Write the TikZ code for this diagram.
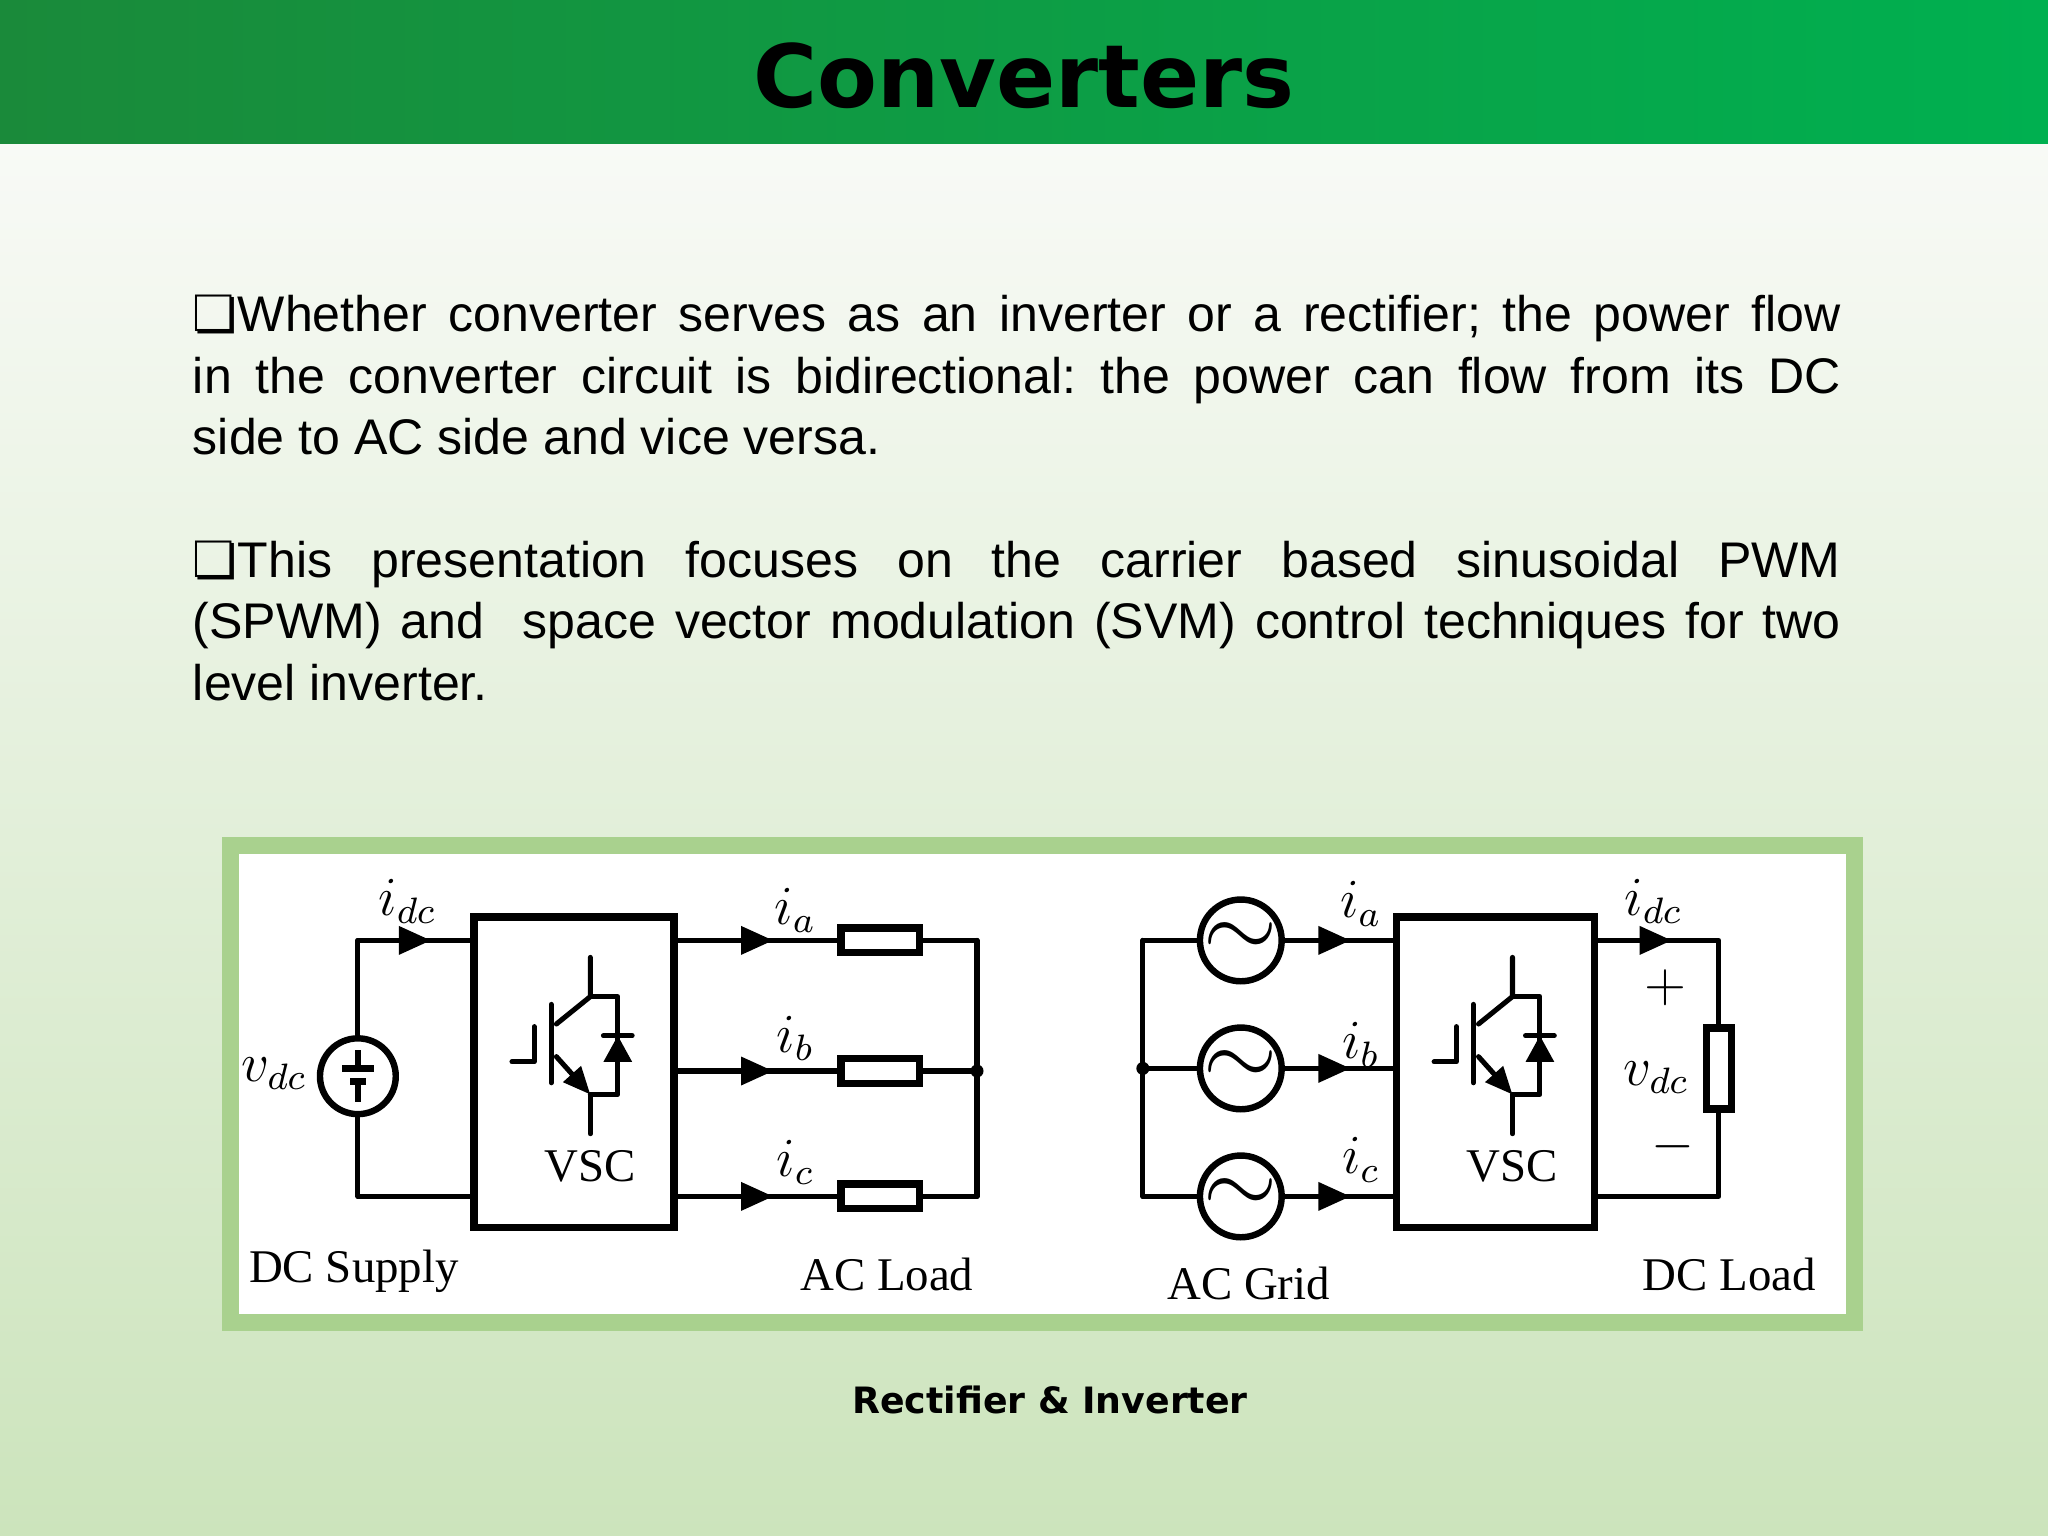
\documentclass[tikz,border=0pt]{standalone}
\usepackage{fontspec}
\setmainfont{Liberation Sans}
\newfontfamily\dejavu{DejaVu Sans}
\newfontfamily\circfont{Liberation Serif}
\usetikzlibrary{arrows.meta,calc}
\definecolor{hdA}{HTML}{1A8A3A}
\definecolor{hdB}{HTML}{00B050}
\definecolor{bgT}{HTML}{F8FAF6}
\definecolor{bgB}{HTML}{CCE4BC}
\definecolor{frame}{HTML}{A9D18E}
\frenchspacing
\begin{document}
\begin{tikzpicture}[x=0.01cm,y=-0.01cm,
  wire/.style={line width=1.1pt,line cap=round,line join=round},
  box/.style={line width=1.6pt},
  res/.style={draw,line width=1.6pt,fill=white,minimum width=0.6cm,minimum height=0.19cm,inner sep=0pt},
  vres/.style={draw,line width=1.6pt,fill=white,minimum width=0.19cm,minimum height=0.62cm,inner sep=0pt},
  src/.style={draw,line width=1.4pt,circle,minimum size=0.58cm,inner sep=0pt,fill=white},
  arr/.style={wire,-{Triangle[length=7pt,width=6pt]}},
  lbl/.style={font=\circfont\fontsize{12}{13}\selectfont},
  big/.style={font=\circfont\fontsize{10.2}{12}\selectfont},
  body/.style={anchor=base west,inner sep=0pt,font=\fontsize{10.9}{13}\selectfont}]
\useasboundingbox (0,0) rectangle (1568,1176);
\shade[top color=bgT,bottom color=bgB] (0,110) rectangle (1568,1176);
\shade[left color=hdA,right color=hdB] (0,0) rectangle (1568,110);
\node[font=\dejavu\bfseries\fontsize{19}{22}\selectfont] (title) at (784,58) {Converters};

% body text
\node[body] (l1) at (147,254) {\makebox[12.61cm][s]{{\dejavu\char"274F}Whether converter serves as an inverter or a rectifier; the power flow}};
\node[body] (l2) at (147,301) {\makebox[12.61cm][s]{in the converter circuit is bidirectional: the power can flow from its DC}};
\node[body] (l3) at (147,348) {side to AC side and vice versa.};
\node[body] (l4) at (147,442) {\makebox[12.61cm][s]{{\dejavu\char"274F}This presentation focuses on the carrier based sinusoidal PWM}};
\node[body] (l5) at (147,489) {\makebox[12.61cm][s]{(SPWM) and\ \ space vector modulation (SVM) control techniques for two}};
\node[body] (l6) at (147,536) {level inverter.};

% frame
\fill[frame] (170,641) rectangle (1426,1019);
\fill[white] (183,654) rectangle (1413,1006);

% ===== left circuit =====
\draw[box] (363,702) rectangle (516,940);
\coordinate (L1) at (363,720); \coordinate (L2) at (363,916);
\node[src] (dc) at (274,824) {};
\draw[line width=1.4pt] (262,818) -- (286,818) (268,828) -- (280,828) (274,804) -- (274,818) (274,828) -- (274,844);
\coordinate (dctl) at (274,720); \coordinate (dcbl) at (274,916);
\draw[wire] (dc.north) -- (dctl) -- (L1);
\draw[wire] (dc.south) -- (dcbl) -- (L2);
\draw[arr] (dctl) -- (330,720);
\node[lbl] at (312,690) {$i_{dc}$};
\node[lbl] at (210,822) {$v_{dc}$};

\foreach \dx/\n in {0/A,706/B}{
\begin{scope}[xshift=\dx*0.01cm]
 \draw[wire] (452,733) -- (452,763) -- (426,784);
 \draw[wire] (422,769) -- (422,829);
 \draw[wire] (392,813) -- (409,813) -- (409,786);
 \draw[wire,-{Triangle[length=6pt,width=5pt]}] (426,809) -- (452,838);
 \draw[wire] (452,838) -- (452,868);
 \draw[wire] (452,763) -- (473,763) -- (473,838) -- (452,838);
 \fill (462,813) -- (484,813) -- (473,793) -- cycle;
 \draw[wire] (462,793) -- (484,793);
 \node[big] (vsc\n) at (452,893) {VSC};
\end{scope}}

\foreach \y/\s in {720/a,820/b,916/c}{
  \node[res] (r\s) at (674,\y) {};
  \coordinate (o\s) at (516,\y);
  \coordinate (e\s) at (748,\y);
  \draw[wire] (o\s) -- (r\s.west);
  \draw[arr] (o\s) -- (592,\y);
  \draw[wire] (r\s.east) -- (e\s);
}
\draw[wire] (ea) -- (ec);
\fill (eb) circle (5);
\node[lbl] at (609,697) {$i_a$};
\node[lbl] at (609,795) {$i_b$};
\node[lbl] at (609,890) {$i_c$};
\node[big] at (271,973) {DC Supply};
\node[big] at (679,976) {AC Load};

% ===== right circuit =====
\draw[box] (1069,702) rectangle (1221,940);
\foreach \y/\s in {720/a,818/b,916/c}{
  \node[src] (g\s) at (950,\y) {\circfont\fontsize{20}{20}\selectfont\raisebox{-1pt}{$\sim$}};
  \coordinate (n\s) at (875,\y);
  \coordinate (v\s) at (1069,\y);
  \draw[wire] (n\s) -- (g\s.west);
  \draw[wire] (g\s.east) -- (v\s);
  \draw[arr] (g\s.east) -- (1034,\y);
}
\draw[wire] (na) -- (nc);
\fill (nb) circle (5);
\node[lbl] at (1042,692) {$i_a$};
\node[lbl] at (1042,800) {$i_b$};
\node[lbl] at (1042,888) {$i_c$};
\node[vres] (rdc) at (1316,818) {};
\coordinate (dt0) at (1221,720); \coordinate (dt1) at (1316,720);
\coordinate (db0) at (1221,916); \coordinate (db1) at (1316,916);
\draw[wire] (dt0) -- (dt1) -- (rdc.north);
\draw[wire] (db0) -- (db1) -- (rdc.south);
\draw[arr] (dt0) -- (1280,720);
\node[lbl] at (1266,690) {$i_{dc}$};
\node[lbl] at (1275,756) {$+$};
\node[lbl] at (1281,878) {$-$};
\node[lbl] at (1268,825) {$v_{dc}$};
\node[big] at (956,983) {AC Grid};
\node[big] at (1324,976) {DC Load};

\node[font=\dejavu\bfseries\fontsize{7.9}{10}\selectfont] (cap) at (804,1072) {Rectifier \& Inverter};
\end{tikzpicture}
\end{document}
